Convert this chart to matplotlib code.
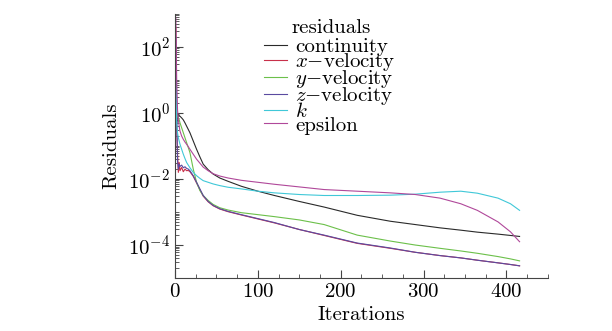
import numpy as np
import matplotlib
matplotlib.use("Agg")
import matplotlib.pyplot as plt
from matplotlib.ticker import FixedLocator, LogLocator, MultipleLocator, NullFormatter

plt.rcParams['font.family'] = ['cmr10', 'DejaVu Serif']
plt.rcParams['mathtext.fontset'] = 'cm'
plt.rcParams['axes.formatter.use_mathtext'] = True
plt.rcParams['axes.unicode_minus'] = False

iterations = [0, 1, 2, 3, 4, 5, 6, 8, 10, 12, 14, 16, 18, 22, 26, 30, 34, 40, 46, 54,
              64, 80, 100, 120, 150, 180, 220, 260, 290, 320, 345, 365, 390, 405, 416]

# log10 of residuals
continuity = [-1.0, 0.3, -0.3, -0.1, -0.05, -0.08, -0.1, -0.15, -0.21, -0.3, -0.4, -0.5, -0.6,
              -0.85, -1.1, -1.33, -1.55, -1.72, -1.85, -1.97, -2.07, -2.22, -2.37, -2.5, -2.68,
              -2.85, -3.1, -3.28, -3.38, -3.48, -3.55, -3.61, -3.67, -3.71, -3.74]
x_velocity = [-2.5, 2.6, -0.5, -1.2, -1.8, -1.5, -1.75, -1.65, -1.78, -1.7, -1.75, -1.74, -1.78,
              -1.92, -2.12, -2.32, -2.52, -2.69, -2.81, -2.91, -2.99, -3.09, -3.21, -3.33, -3.53,
              -3.71, -3.95, -4.1, -4.22, -4.32, -4.39, -4.46, -4.54, -4.59, -4.63]
y_velocity = [-2.0, 0.5, 0.0, -0.1, -0.15, -0.2, -0.3, -0.45, -0.6, -0.75, -0.9, -1.05, -1.2,
              -1.7, -2.1, -2.35, -2.5, -2.65, -2.77, -2.87, -2.94, -3.02, -3.08, -3.14, -3.24,
              -3.38, -3.7, -3.88, -4.0, -4.1, -4.18, -4.25, -4.35, -4.42, -4.48]
z_velocity = [-1.0, 2.3, 0.0, -1.45, -1.7, -1.55, -1.62, -1.58, -1.66, -1.63, -1.68, -1.7, -1.75,
              -1.9, -2.1, -2.3, -2.5, -2.68, -2.8, -2.9, -2.98, -3.08, -3.2, -3.32, -3.53,
              -3.7, -3.94, -4.09, -4.22, -4.32, -4.39, -4.46, -4.54, -4.59, -4.63]
k_res = [-1.5, 1.0, -0.3, -0.6, -0.75, -0.85, -0.95, -1.1, -1.25, -1.38, -1.5, -1.58, -1.66,
         -1.8, -1.9, -1.98, -2.05, -2.1, -2.15, -2.2, -2.25, -2.3, -2.37, -2.42, -2.47,
         -2.5, -2.5, -2.49, -2.46, -2.4, -2.37, -2.43, -2.58, -2.75, -2.95]
epsilon = [1.0, 2.9, 1.0, 0.1, -0.2, -0.4, -0.55, -0.7, -0.8, -0.88, -0.95, -1.02, -1.1,
           -1.25, -1.4, -1.52, -1.64, -1.75, -1.84, -1.91, -1.97, -2.04, -2.1, -2.16, -2.24,
           -2.32, -2.37, -2.42, -2.47, -2.58, -2.75, -2.95, -3.3, -3.6, -3.9]

labels = ['continuity', '$x$$-$velocity', '$y$$-$velocity', '$z$$-$velocity', '$k$', 'epsilon']

fig = plt.figure(figsize=(6.12, 3.31), dpi=100)
ax = fig.add_axes([0.286, 0.16, 0.609, 0.798])

it = np.array(iterations)
lw = 0.8
l_cont, = ax.plot(it, 10.0 ** np.array(continuity), color='#2a2a2a', lw=lw)
l_x, = ax.plot(it, 10.0 ** np.array(x_velocity), color='#c8304a', lw=lw)
l_y, = ax.plot(it, 10.0 ** np.array(y_velocity), color='#6cc04a', lw=lw)
l_z, = ax.plot(it, 10.0 ** np.array(z_velocity), color='#5a4aa0', lw=lw)
l_k, = ax.plot(it, 10.0 ** np.array(k_res), color='#40c8d8', lw=lw)
l_e, = ax.plot(it, 10.0 ** np.array(epsilon), color='#b0489a', lw=lw)

ax.set_yscale('log')
ax.set_xlim(0, 450)
ax.set_ylim(1e-5, 1e3)

ax.xaxis.set_major_locator(MultipleLocator(100))
ax.xaxis.set_minor_locator(MultipleLocator(25))
ax.yaxis.set_major_locator(FixedLocator([1e-4, 1e-2, 1e0, 1e2]))
ax.yaxis.set_minor_locator(LogLocator(base=10, subs=np.arange(1, 10), numticks=30))
ax.yaxis.set_minor_formatter(NullFormatter())
ax.tick_params(which='both', direction='in', labelsize=15, color='#444444')
ax.tick_params(which='major', length=6)
ax.tick_params(which='minor', length=3)

for s in ['top', 'right']:
    ax.spines[s].set_visible(False)
for s in ['left', 'bottom']:
    ax.spines[s].set_color('#444444')

ax.set_xlabel('Iterations', fontsize=15, labelpad=4)
ax.set_ylabel('Residuals', fontsize=15, labelpad=6)

# legend title drawn separately so the gap below it matches the original
ax.text(0.42, 0.947, 'residuals', transform=ax.transAxes, fontsize=15,
        ha='center', va='center')
leg = ax.legend([l_cont, l_x, l_y, l_z, l_k, l_e], labels,
                loc='upper left', bbox_to_anchor=(0.21, 0.95),
                frameon=False, fontsize=15, labelspacing=-0.24,
                handlelength=1.1, handletextpad=0.4, borderpad=0)

fig.savefig('out.png', dpi=100, facecolor='white')
